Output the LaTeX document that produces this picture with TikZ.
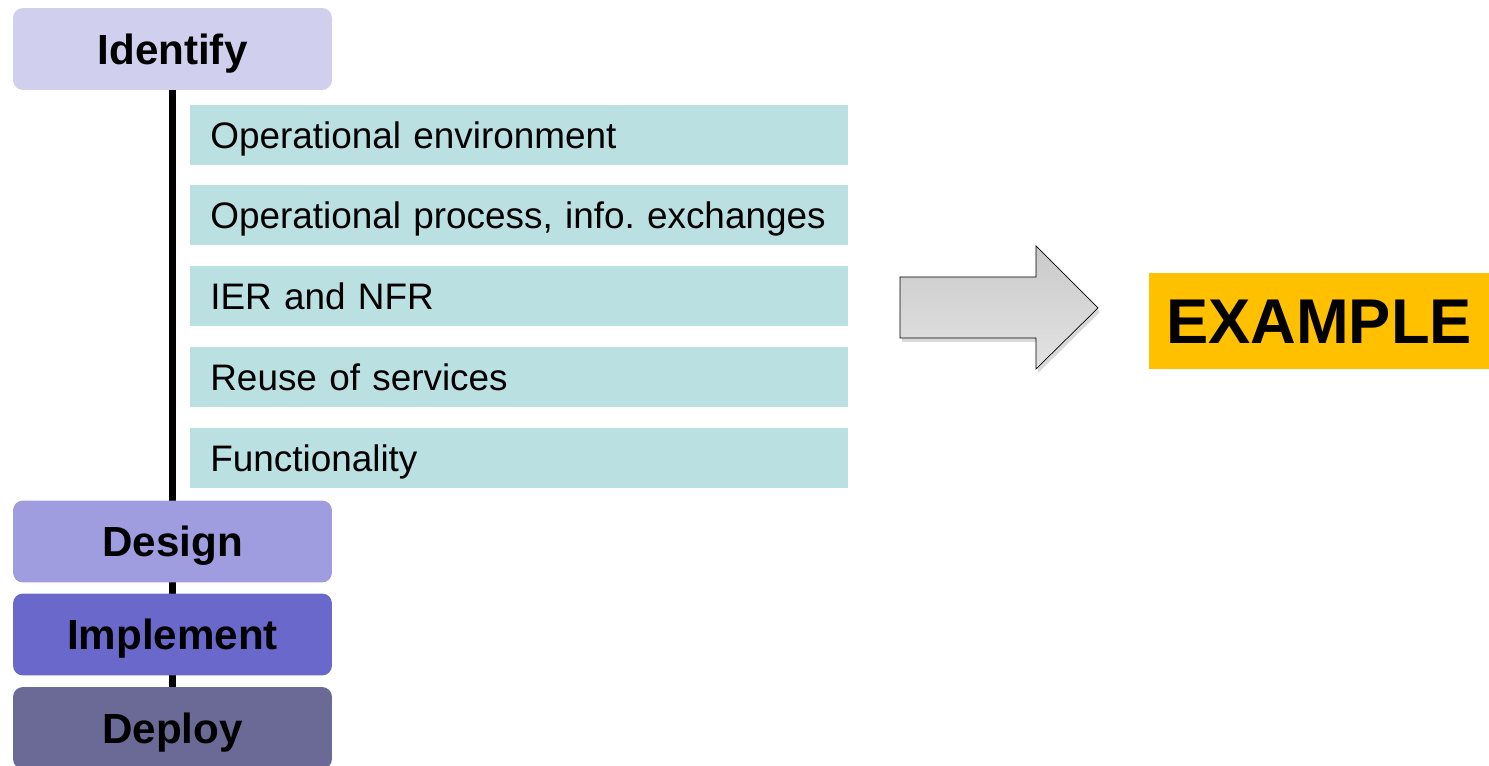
\documentclass[tikz,border=0pt]{standalone}
\usepackage{fontspec}
\setmainfont{Liberation Sans}
\usetikzlibrary{backgrounds,shadows}
\frenchspacing

\definecolor{identfill}{HTML}{D0CFEE}
\definecolor{designfill}{HTML}{9F9CDF}
\definecolor{implfill}{HTML}{6B68CC}
\definecolor{deployfill}{HTML}{6B6996}
\definecolor{taskteal}{HTML}{BAE0E2}
\definecolor{examplegold}{HTML}{FFC000}

\begin{document}
\begin{tikzpicture}[x=0.02cm, y=-0.02cm,
    phase/.style={rectangle, rounded corners=0.2cm, inner sep=0pt,
      minimum width=6.38cm, minimum height=1.64cm,
      text height=17.2pt, text depth=0pt,
      font=\fontsize{24}{28}\selectfont\bfseries},
    task/.style={rectangle, fill=taskteal, anchor=west,
      minimum height=1.2cm, text width=13.16cm, align=left,
      inner sep=0pt, text height=15pt, text depth=0pt,
      execute at begin node=\hspace*{0.4cm},
      font=\fontsize{21}{25}\selectfont}]
  \useasboundingbox (0,0) rectangle (1489,766);
  % phases down the left
  \draw
    (172.5,49) node[phase, fill=identfill] (identify){Identify}
    (172.5,541.5) node[phase, fill=designfill] (design){Design}
    (172.5,634.5) node[phase, fill=implfill] (implement){Implement}
    (172.5,728) node[phase, fill=deployfill] (deploy){Deploy};
  % what gets identified
  \draw
    (190,135) node[task] (env){Operational environment}
    (190,215) node[task] (proc){Operational process, info. exchanges}
    (190,296) node[task] (ier){IER and NFR}
    (190,377) node[task] (reuse){Reuse of services}
    (190,458) node[task] (func){Functionality};
  \begin{scope}[on background layer]
    \draw[line width=4.5pt] (identify.south) -- (deploy.north);
  \end{scope}
  % big arrow and the label
  \draw[top color=gray!42, bottom color=gray!22, line join=miter,
      drop shadow={shadow xshift=0.04cm, shadow yshift=-0.08cm, opacity=0.3}]
    (900,277) -- (1036,277) -- (1036,246) -- (1098,308)
    -- (1036,369) -- (1036,338) -- (900,338) -- cycle;
  \node[rectangle, fill=examplegold, minimum width=6.8cm, minimum height=1.92cm,
      inner sep=0pt, text height=25.8pt, text depth=0pt,
      font=\fontsize{36}{40}\selectfont\bfseries]
    (example) at (1319,321) {EXAMPLE};
\end{tikzpicture}
\end{document}
